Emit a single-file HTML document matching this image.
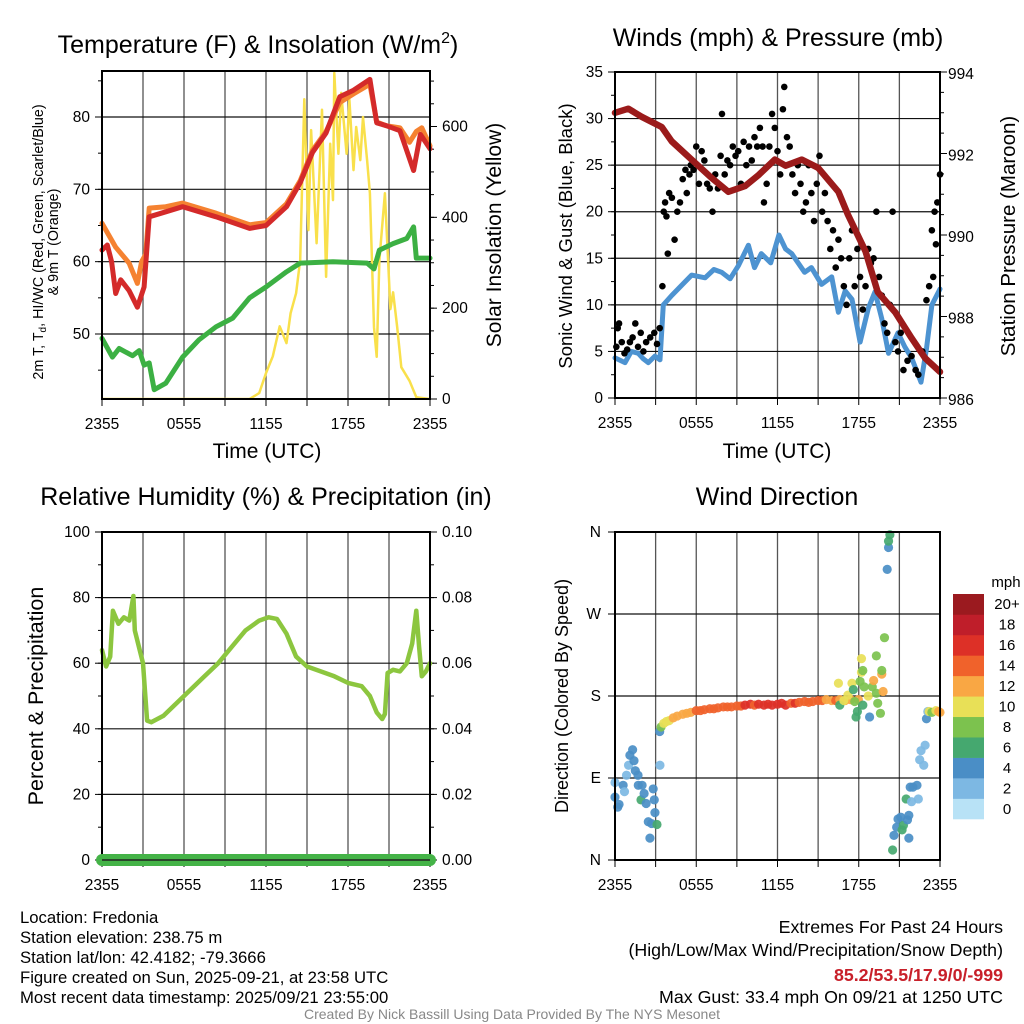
<!DOCTYPE html>
<html><head><meta charset="utf-8"><style>
html,body{margin:0;padding:0;background:#fff;}
svg{display:block;font-family:"Liberation Sans",Arial,sans-serif;}
</style></head><body>
<svg id="chart" width="1024" height="1024" viewBox="0 0 1024 1024" xmlns="http://www.w3.org/2000/svg">
<rect x="0" y="0" width="1024" height="1024" fill="#fff"/>
<g id="g"></g>
</svg>
<script>
// ---- Temperature panel data ----
const redT = [0,0.39,0.7,1.0,1.37,1.98,2.59,3.08,3.45,4.67,5.9,8.34,10.8,12.0,13.5,14.5,15.4,16.4,17.4,18.4,19.6,20.1,20.8,21.8,22.8,23.3,24];
const redV = [61.6,62.3,60,55.6,57.5,56,53.7,56.5,66.2,66.9,67.6,66.2,64.6,65,67.6,70.9,75.1,77.8,82.8,83.7,85.2,79.2,78.8,78.1,72.6,77.6,75.6];
const orT = [0,1.0,1.98,2.59,2.9,3.2,3.45,4.67,5.9,8.34,10.8,12.0,13.5,14.5,15.4,16.4,17.4,18.4,19.4,19.6,20.1,20.8,21.8,22.5,23.0,23.4,24];
const orV = [65.3,62,59.8,57,60,61,67.4,67.6,68.1,66.7,65.1,65.4,68,71.2,75.4,78,82,83.2,84.3,84.5,79.3,78.8,78.5,76.5,78,78.5,76];
const dewT = [0,0.76,1.25,2.23,2.72,3.08,3.45,3.82,4.67,5.9,7.1,8.34,9.56,10.8,12.0,13.5,14.5,16.9,19.4,19.9,20.3,21.3,22.3,22.8,23.0,24];
const dewV = [49.4,46.8,48,47,47.7,45.7,46,42.3,43.2,46.8,49.2,51,52.2,55,56.5,58.6,59.8,60,59.8,59,61.6,62.5,63.2,64.8,60.5,60.5];
const solT = [0,10.8,11.5,12.0,12.5,13.0,13.5,13.8,14.2,14.5,14.8,15.1,15.3,15.7,16.1,16.4,16.7,16.9,17.0,17.3,17.5,17.9,18.1,18.4,18.6,18.9,19.1,19.4,19.6,19.9,20.1,20.3,20.7,21.1,21.3,21.6,21.9,22.5,23.0,24];
const solV = [0,0,13,57,94,160,123,189,233,306,660,372,592,343,637,269,562,438,718,540,674,540,659,504,599,526,621,526,453,158,93,306,453,198,235,158,70,40,4,0];
// ---- Wind panel data ----
const windT = [0,0.74,1.2,1.72,2.1,2.46,2.95,3.32,3.57,4.19,5.66,6.65,7.3,7.88,8.5,9.11,9.85,10.3,10.8,11.5,12.1,12.6,13.05,14.0,14.5,15.26,16.0,16.5,17.0,17.5,18.1,18.7,19.2,19.7,20.2,20.9,21.4,21.9,22.6,23.0,23.4,24];
const windV = [4.3,3.8,5,4.8,4.2,3.8,4.5,4.1,10,11,13.2,12.9,13.8,13.5,12.8,14.2,16.4,14,15.5,14.5,17.5,16,15.5,13.5,14,12.2,13,9.2,11.5,10.6,6,9.6,11.4,8.5,4.8,7,5.5,4.3,1.7,5.3,10,11.7];
const presT = [0,0.98,1.97,3.45,4.19,5.66,7.14,8.37,9.6,10.6,11.8,12.6,13.8,15.0,16.5,17.2,18.5,19.4,20.7,21.9,22.9,24];
const presV = [993.0,993.1,992.9,992.65,992.3,991.85,991.4,991.06,991.2,991.47,991.85,991.7,991.85,991.65,991.06,990.5,989.6,988.6,988.1,987.47,986.98,986.64];
const gustT = [0.1,0.2,0.3,0.5,0.7,0.9,1.1,1.3,1.5,1.7,1.9,2.1,2.3,2.6,2.9,3.1,3.3,3.5,3.6,3.7,3.8,3.9,4.0,4.2,4.4,4.6,4.8,5.0,5.2,5.3,5.5,5.6,5.8,6.0,6.2,6.4,6.6,6.8,7.0,7.2,7.4,7.6,7.8,7.9,8.1,8.3,8.5,8.7,8.9,9.1,9.3,9.5,9.7,9.9,10.1,10.3,10.5,10.7,10.9,11.0,11.2,11.4,11.6,11.8,12.0,12.2,12.4,12.5,12.7,12.9,13.1,13.3,13.5,13.7,13.9,14.1,14.3,14.5,14.7,14.9,15.1,15.3,15.5,15.7,15.9,16.1,16.3,16.5,16.7,16.9,17.1,17.3,17.5,17.7,17.9,18.1,18.3,18.5,18.7,18.9,19.1,19.3,19.5,19.7,19.9,20.1,20.3,20.5,20.7,20.9,21.1,21.3,21.6,21.9,22.2,22.4,22.7,23.0,23.2,23.4,23.5,23.6,23.7,23.8,24];
const gustV = [5.5,7.5,8,6,4.8,5.2,6,6.5,8,5.5,7,5,6,6.5,7,5.8,7.5,12,20,21,19.5,15.5,22,21.5,17,20,21,23.5,24.5,22,24,25,24.5,27,23,26.5,25.5,23,22.5,20,24,22.5,26,30.5,24,25.5,25,27,26,26.5,23,27.5,25,27,25.5,28,27,29,27,21,23,27,30.5,29,26.5,24,31,33.4,28,27,24,22,25,23,20,21,25,22,19,23,26,20,22,19,16,18,14,17,15,12,10,15,18,12,16,13,9.5,12,16,14.5,15,20,13,11,8,7,10,20,6,5,7,3,4,4.5,3,2.5,5,10.5,12,18,13,20,16.5,21,24];
// ---- RH panel data ----
const rhT = [0,0.3,0.6,0.8,1.2,1.6,2.0,2.3,2.4,2.7,3.0,3.3,3.6,4.5,6,7.5,8.5,9.5,10.5,11.5,12.2,12.8,13.5,14.2,15,16,17,18,19,19.6,20.1,20.5,20.7,20.9,21.3,21.8,22.3,22.7,23.0,23.2,23.4,23.7,24];
const rhV = [64,59,62,76,72,74,73,80.5,70,65,60,42.5,42,44,50,56,60,65,70,73,74,73.5,69,62,59,57.5,56,54,53,50,45,43,44.5,57,58,57.5,60,66,76,65,56,57.5,60];
const precipT = [0,24];
const precipV = [0,0];
// ---- Wind direction data: time, degrees, speed ----
const dirT = [0,0,0.2,0.3,0.6,0.7,0.85,1.0,1.1,1.3,1.4,1.5,1.7,1.72,1.92,2.0,2.15,2.3,2.46,2.58,2.7,2.82,2.9,2.95,3.1,3.32,
 3.3,3.4,3.6,3.8,4.0,4.3,4.6,5.0,5.3,5.6,6.0,6.3,6.6,7.0,7.3,7.6,8.0,8.3,8.6,9.0,9.3,9.6,10.0,10.3,10.6,11.0,11.3,11.6,12.0,12.3,12.6,13.0,13.3,13.6,14.0,14.3,14.6,15.0,15.3,15.6,16.0,16.3,16.6,17.0,17.4,17.97,
 16.5,16.6,16.9,17.2,17.5,17.6,17.7,17.9,17.8,18.1,18.2,18.2,18.3,18.4,18.3,18.7,18.8,19.0,19.1,19.3,19.3,19.4,19.6,19.7,19.7,19.8,19.9,20.1,20.2,20.2,20.3,
 20.5,20.6,20.8,20.9,21.1,21.2,21.3,21.5,21.6,21.7,21.7,21.8,21.9,22.0,22.3,22.4,22.5,22.6,22.8,22.9,23.0,23.1,23.2,23.4,23.7,23.9,24.0];
const dirD = [85,69,58,61,82,75,93,104,115,121,109,98,93,82,66,82,73,62,42,24,40,78,66,52,39,104,
 141,146,150,152,153,156,158,160,161,162,164,164,165,166,166,167,168,168,168,169,169,170,171,170,171,170,171,170,171,172,170,172,172,173,174,173,174,175,175,176,175,175,176,175,176,176,
 194,170,175,181,194,187,174,163,157,196,221,206,208,190,170,180,157,190,197,224,183,172,161,204,208,185,244,319,343,350,357,
 11,27,36,45,47,33,38,67,44,24,49,80,64,80,82,67,110,120,104,126,155,163,163,162,164,163,162];
const dirS = [3,4,4,4,4,3,3,3,4,4,4,4,4,4,6,4,4,4,4,4,4,4,4,4,6,2,
 4,8,10,10,11,12,12,13,12,13,14,14,14,14,15,14,14,15,14,15,15,16,16,15,16,17,16,17,16,17,16,15,16,14,15,15,14,15,14,13,12,14,13,12,13,13,
 10,6,10,10,10,6,8,6,6,8,10,10,8,8,6,10,4,8,12,8,8,8,8,12,8,12,8,4,4,6,6,
 6,4,4,4,4,6,6,6,4,4,4,4,2,4,4,2,2,2,2,2,4,2,10,8,10,12,13];
const spdColors = ['#b8e2f6','#7db8e3','#4a8ec6','#45a86f','#7cc24e','#e8e057','#f9a744','#f0622b','#dd3027','#bf1e2a','#9b1a1f'];
const cbLabels = ['0','2','4','6','8','10','12','14','16','18','20+'];
const xTickLabels = ['2355','0555','1155','1755','2355'];

const NS='http://www.w3.org/2000/svg';
const G=document.getElementById('g');
const TK=15.5, AX=21, TT=25;
function el(tag,attrs,parent){const e=document.createElementNS(NS,tag);for(const k in attrs)e.setAttribute(k,attrs[k]);(parent||G).appendChild(e);return e;}
function txt(s,x,y,size,anchor,extra){const e=el('text',Object.assign({x:x,y:y,'font-size':size,'text-anchor':anchor||'middle',fill:'#000'},extra||{}));e.textContent=s;return e;}
function lin(a,b,c,d){return v=>c+(v-a)*(d-c)/(b-a);}

function panel(L,R,T,B,name){
  const g=el('g',{});
  
  
  const xs=lin(0,24,L,R);
  for(let h=3;h<24;h+=3){const l=el('line',{x1:xs(h),x2:xs(h),y1:T,y2:B,stroke:'#555','stroke-width':1.3},g);}
  for(let h=0;h<=24;h+=3){const l=el('line',{x1:xs(h),x2:xs(h),y1:B,y2:B+7,stroke:'#000','stroke-width':1},g);}
  xTickLabels.forEach((s,i)=>{const t=txt(s,xs(i*6),B+30,TK);});
  return {g,xs};
}
function hgrid(g,L,R,ys){ys.forEach(y=>{const l=el('line',{x1:L,x2:R,y1:y,y2:y,stroke:'#111','stroke-width':1.2},g);});}
function ticksLeft(L,ys,len){ys.forEach(y=>el('line',{x1:L-len,x2:L,y1:y,y2:y,stroke:'#000','stroke-width':1}));}
function ticksRight(R,ys,len){ys.forEach(y=>el('line',{x1:R,x2:R+len,y1:y,y2:y,stroke:'#000','stroke-width':1}));}
function frame(L,R,T,B,name){const r=el('rect',{x:L,y:T,width:R-L,height:B-T,fill:'none',stroke:'#000','stroke-width':2});}
function path(ts,vs,xs,ys,color,w,name){const d=ts.map((t,i)=>(i?'L':'M')+xs(t).toFixed(1)+','+ys(vs[i]).toFixed(1)).join('');const p=el('path',{d:d,fill:'none',stroke:color,'stroke-width':w,'stroke-linejoin':'round','stroke-linecap':'round'});return p;}

// ===== Panel 1: Temperature =====
(function(){
  const L=102,R=430,T=71,B=399;
  const {g,xs}=panel(L,R,T,B,'temperature-panel');
  const yT=lin(50,80,334,117);
  const yS=lin(0,600,399,126.5);
  hgrid(g,L,R,[50,60,70,80].map(yT));
  const minors=[];for(let v=45;v<=85;v+=5)minors.push(yT(v));
  ticksLeft(L,minors,4);ticksLeft(L,[50,60,70,80].map(yT),7);
  const rm=[];for(let v=0;v<=700;v+=50)rm.push(yS(v));
  ticksRight(R,rm,4);ticksRight(R,[0,200,400,600].map(yS),7);
  [50,60,70,80].forEach(v=>{const t=txt(String(v),L-12,yT(v)+5,TK,'end');});
  [0,200,400,600].forEach(v=>{const t=txt(String(v),R+12,yS(v)+5,TK,'start');});
  const cp=el('clipPath',{id:'c1'});el('rect',{x:L,y:T-8,width:R-L,height:B-T+8},cp);
  path(solT,solV,xs,yS,'#f9e04b',2.5,'solar-insolation-line').setAttribute('clip-path','url(#c1)');
  path(orT,orV,xs,yT,'#f58231',5,'9m-temperature-line');
  path(redT,redV,xs,yT,'#d42a2a',5,'2m-temperature-line');
  path(dewT,dewV,xs,yT,'#3cb043',5,'dewpoint-line');
  frame(L,R,T,B,'temperature-plot-frame');
  let t=txt('Temperature (F) & Insolation (W/m',258,53,TT);
  const ts=el('tspan',{dy:-10,'font-size':16},t);ts.textContent='2';const ts2=el('tspan',{dy:10},t);ts2.textContent=')';
  t=txt('Time (UTC)',267,458,AX);
  t=txt('Solar Insolation (Yellow)',0,0,AX,'middle',{transform:'translate(501,235) rotate(-90)'});
  t=txt('',0,0,14.3,'middle',{transform:'translate(43,242) rotate(-90)'});
  let a=el('tspan',{},t);a.textContent='2m T, T';a=el('tspan',{dy:3,'font-size':10},t);a.textContent='d';a=el('tspan',{dy:-3},t);a.textContent=', HI/WC (Red, Green, Scarlet/Blue)';
  t=txt('& 9m T (Orange)',0,0,14.3,'middle',{transform:'translate(58,242) rotate(-90)'});
})();

// ===== Panel 2: Winds =====
(function(){
  const L=615,R=940,T=72,B=398;
  const {g,xs}=panel(L,R,T,B,'winds-panel');
  const yW=lin(0,35,398,72);
  const yP=lin(986,994,398,72);
  hgrid(g,L,R,[5,10,15,20,25,30].map(yW));
  const mn=[];for(let v=0;v<=35;v+=2.5)mn.push(yW(v));ticksLeft(L,mn,4);
  ticksLeft(L,[0,5,10,15,20,25,30,35].map(yW),7);
  const rm=[];for(let v=986;v<=994;v+=0.5)rm.push(yP(v));ticksRight(R,rm,4);
  ticksRight(R,[986,988,990,992,994].map(yP),7);
  [0,5,10,15,20,25,30,35].forEach(v=>{const t=txt(String(v),L-12,yW(v)+5,TK,'end');});
  [986,988,990,992,994].forEach(v=>{const t=txt(String(v),R+8,yP(v)+7,TK,'start');});
  path(windT,windV,xs,yW,'#4d93d1',5,'sonic-wind-line');
  gustT.forEach((t,i)=>{const c=el('circle',{cx:xs(t),cy:yW(gustV[i]),r:3.3,fill:'#000'});});
  path(presT,presV,xs,yP,'#9b1b1b',6.5,'pressure-line');
  frame(L,R,T,B,'winds-plot-frame');
  let t=txt('Winds (mph) & Pressure (mb)',778,46,TT);
  t=txt('Time (UTC)',777,458,AX);
  t=txt('Sonic Wind & Gust (Blue, Black)',0,0,18.5,'middle',{transform:'translate(572,236) rotate(-90)'});
  t=txt('Station Pressure (Maroon)',0,0,20.5,'middle',{transform:'translate(1015,236) rotate(-90)'});
})();

// ===== Panel 3: RH =====
(function(){
  const L=102,R=430,T=532,B=860;
  const {g,xs}=panel(L,R,T,B,'humidity-panel');
  const yR=lin(0,100,860,532);
  const yPr=lin(0,0.1,860,532);
  hgrid(g,L,R,[20,40,60,80].map(yR));
  const mn=[];for(let v=0;v<=100;v+=10)mn.push(yR(v));ticksLeft(L,mn,4);ticksRight(R,mn,4);
  ticksLeft(L,[0,20,40,60,80,100].map(yR),7);ticksRight(R,[0,20,40,60,80,100].map(yR),7);
  [0,20,40,60,80,100].forEach(v=>{const t=txt(String(v),L-12,yR(v)+5,TK,'end');});
  [0,0.02,0.04,0.06,0.08,0.10].forEach(v=>{const t=txt(v.toFixed(2),R+12,yPr(v)+5,TK,'start');});
  path(rhT,rhV,xs,yR,'#8cc63f',4.5,'relative-humidity-line');
  frame(L,R,T,B,'humidity-plot-frame');
  path(precipT,precipV,xs,yPr,'#44b347',12,'precipitation-line');
  el('line',{x1:L,x2:R,y1:B,y2:B,stroke:'#222','stroke-width':1.5});
  let t=txt('Relative Humidity (%) & Precipitation (in)',266,505,TT);
  t=txt('Percent & Precipitation',0,0,21.5,'middle',{transform:'translate(43,696) rotate(-90)'});
})();

// ===== Panel 4: Wind Direction =====
(function(){
  const L=615,R=940,T=532,B=860;
  const {g,xs}=panel(L,R,T,B,'wind-direction-panel');
  const yD=lin(0,360,860,532);
  hgrid(g,L,R,[90,180,270].map(yD));
  ticksLeft(L,[0,90,180,270,360].map(yD),7);
  ['N','E','S','W','N'].forEach((s,i)=>{const t=txt(s,L-14,yD(i*90)+5,TK,'end');});
  dirT.forEach((t,i)=>{const k=Math.min(10,Math.floor(dirS[i]/2));const c=el('circle',{cx:xs(t),cy:yD(dirD[i]),r:4.6,fill:spdColors[k],'fill-opacity':0.92});});
  frame(L,R,T,B,'wind-direction-plot-frame');
  let t=txt('Wind Direction',777,505,TT);
  t=txt('Direction (Colored By Speed)',0,0,18,'middle',{transform:'translate(568,696) rotate(-90)'});
  const cbT=594,cbH=225/11;
  for(let i=0;i<11;i++){const r=el('rect',{x:953,y:cbT+(10-i)*cbH,width:31,height:cbH+0.3,fill:spdColors[i]});
    const tl=txt(cbLabels[i],1007,cbT+(10-i)*cbH+cbH/2+5,15,'middle');}
  t=txt('mph',1006,587,15);
})();

// ===== Footer =====
['Location: Fredonia','Station elevation: 238.75 m','Station lat/lon: 42.4182; -79.3666','Figure created on Sun, 2025-09-21, at 23:58 UTC','Most recent data timestamp: 2025/09/21 23:55:00'].forEach((s,i)=>{const t=txt(s,20,923+i*20,16.7,'start');});
let ft=txt('Extremes For Past 24 Hours',1003,933,17.8,'end');
ft=txt('(High/Low/Max Wind/Precipitation/Snow Depth)',1003,956,17.8,'end');
ft=txt('85.2/53.5/17.9/0/-999',1003,981,17.8,'end',{fill:'#c8202a','font-weight':'bold'});
ft=txt('Max Gust: 33.4 mph On 09/21 at 1250 UTC',1003,1003,17.8,'end');
ft=txt('Created By Nick Bassill Using Data Provided By The NYS Mesonet',512,1019,14,'middle',{fill:'#888'});
</script>
</body></html>
